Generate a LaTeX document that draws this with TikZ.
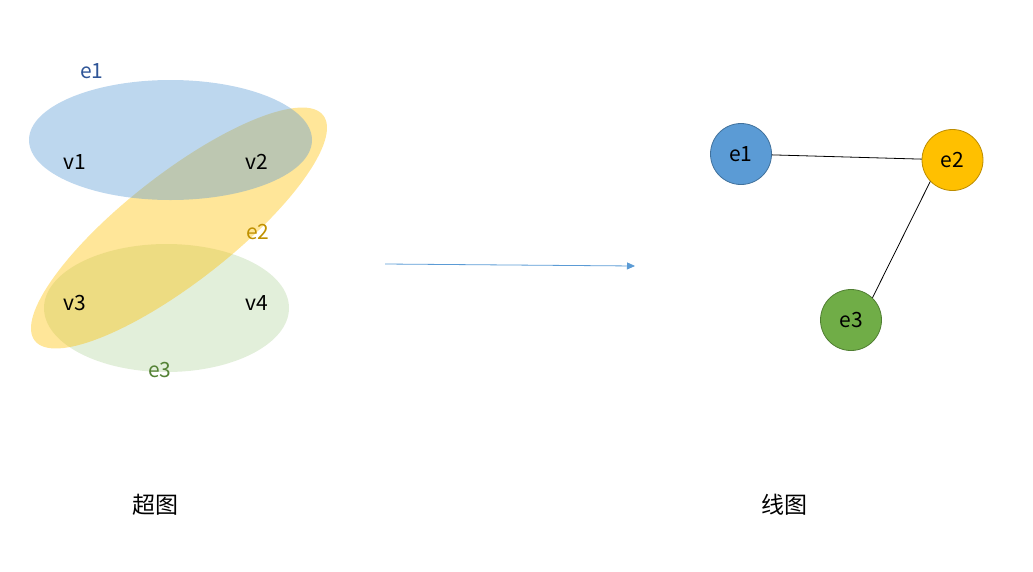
\documentclass[tikz,border=0pt]{standalone}
\usepackage{fontspec}
\setmainfont{Noto Sans CJK SC}
\usetikzlibrary{arrows.meta}
\definecolor{eblue}{HTML}{5B9BD5}
\definecolor{eyellow}{HTML}{FFC000}
\definecolor{egreen}{HTML}{70AD47}
\definecolor{eblueline}{HTML}{41719C}
\definecolor{eyellowline}{HTML}{BC8C00}
\definecolor{egreenline}{HTML}{507E32}
\definecolor{eblueText}{HTML}{2F5597}
\definecolor{eyellowText}{HTML}{BF9000}
\definecolor{egreenText}{HTML}{548235}

\begin{document}
\begin{tikzpicture}[x=1pt,y=-1pt,
  edgeset/.style={fill opacity=#1},
  lbl/.style={inner sep=0pt,font=\fontsize{21}{25}\selectfont},
  caption/.style={inner sep=0pt,font=\fontsize{23}{27}\selectfont},
  enode/.style={circle,minimum size=61pt,inner sep=0pt,line width=.8pt,font=\fontsize{21}{25}\selectfont},
  link/.style={line width=.8pt,black}]
\useasboundingbox (0,0) rectangle (1033,571);
% ---- hypergraph: e3 below, e2 across, e1 on top
\fill[egreen,edgeset=.2] (166.5,308) ellipse [x radius=122.5,y radius=64];
\fill[eyellow,edgeset=.4,rotate around={38:(179,228)}] (179,228) ellipse [x radius=183,y radius=54];
\fill[eblue,edgeset=.4] (170.5,140) ellipse [x radius=141.5,y radius=60];
% ---- vertices
\node[lbl] (v1) at (75,162) {v1};
\node[lbl] (v2) at (257,162) {v2};
\node[lbl] (v3) at (75,303) {v3};
\node[lbl] (v4) at (257,303) {v4};
% ---- hyperedge labels
\node[lbl,text=eblueText] (h1) at (92,71.5) {e1};
\node[lbl,text=eyellowText] (h2) at (258,232.5) {e2};
\node[lbl,text=egreenText] (h3) at (160,370) {e3};
% ---- arrow between the two pictures
\coordinate (from) at (385,264);
\coordinate (to) at (635,266);
\draw[eblue,line width=.8pt,-{Triangle[length=8pt,width=7pt]}] (from) -- (to);
% ---- line graph
\node[enode,fill=eblue,draw=eblueline] (e1) at (741,154) {e1};
\node[enode,fill=eyellow,draw=eyellowline] (e2) at (952.5,160) {e2};
\node[enode,fill=egreen,draw=egreenline] (e3) at (851,320) {e3};
\draw[link] (e1) -- (e2);
\draw[link] (e2.224) -- (e3.46);
% ---- captions
\node[caption] (hyper) at (155.5,505) {超图};
\node[caption] (line) at (784.5,505) {线图};
\end{tikzpicture}
\end{document}
